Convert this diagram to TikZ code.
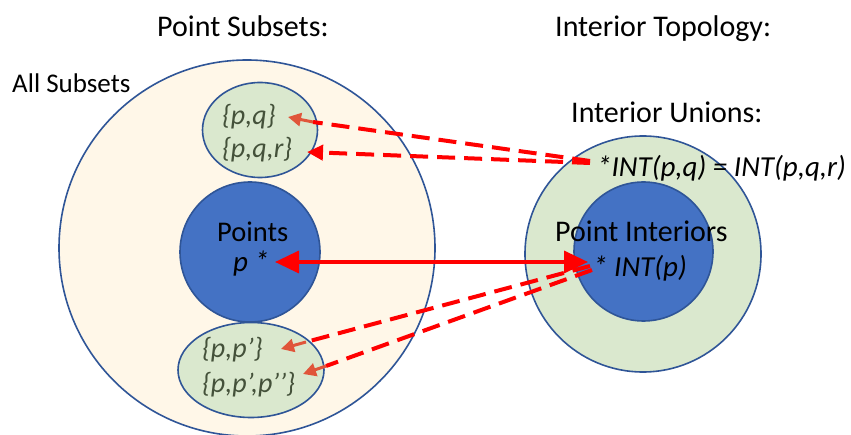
\documentclass[tikz,border=0pt]{standalone}
\usepackage{fontspec}
\setmainfont{Carlito}
\usetikzlibrary{shapes.geometric,arrows.meta}
\definecolor{cream}{HTML}{FFF7E8}
\definecolor{lgreen}{HTML}{DAE8CE}
\definecolor{midblue}{HTML}{4472C4}
\definecolor{edgeblue}{HTML}{2F5597}
\definecolor{setgray}{HTML}{44513A}
\definecolor{coral}{HTML}{E0553A}
\begin{document}
\begin{tikzpicture}[x=1pt,y=-1pt,
  region/.style={draw=edgeblue, line width=1.6pt, inner sep=0pt},
  bigset/.style={region, circle, fill=cream, minimum size=376pt},
  greenset/.style={region, ellipse, fill=lgreen},
  bluedisc/.style={region, circle, fill=midblue, minimum size=140pt},
  lbl/.style={font=\fontsize{30}{34}\selectfont, inner sep=0pt, anchor=base west},
  setlbl/.style={font=\fontsize{28}{32}\selectfont\itshape, text=setgray, inner sep=0pt, anchor=base west},
  itlbl/.style={font=\fontsize{29}{33}\selectfont\itshape, inner sep=0pt, anchor=base west},
  dashlink/.style={draw=red, line width=4pt, dash pattern=on 18pt off 9pt},
  shortarrow/.style={draw=coral, line width=3pt, -{Triangle[length=13pt,width=13pt]}},
  mainarrow/.style={draw=red, line width=3.5pt, {Triangle[length=24pt,width=22pt]}-{Triangle[length=24pt,width=22pt]}}
]
\useasboundingbox (0,0) rectangle (851,435);

% regions
\node[bigset] (all) at (247,248) {};
\node[greenset, minimum width=115pt, minimum height=95pt] (pq) at (260,130) {};
\node[greenset, minimum width=146pt, minimum height=95pt] (pp) at (251,370) {};
\node[bluedisc] (points) at (250,252) {};
\node[region, circle, fill=lgreen, minimum size=236pt] (unions) at (643,254) {};
\node[bluedisc, minimum size=139pt] (pint) at (643.5,251.5) {};

% texts
\node[lbl] (t1) at (157,37) {Point Subsets:};
\node[lbl] (t2) at (555,37) {Interior Topology:};
\node[lbl, font=\fontsize{27}{31}\selectfont] (t3) at (12,93) {All Subsets};
\node[lbl] (t4) at (571,123) {Interior Unions:};
\node[itlbl] (t5) at (597,177) {*INT(p,q) = INT(p,q,r)};
\node[lbl] (t6) at (555,242) {Point Interiors};
\node[itlbl] (t7) at (593,277) {* INT(p)};
\node[lbl, font=\fontsize{28.5}{32}\selectfont] (t8) at (217,242) {Points};
\node[itlbl] (t9) at (233,272) {p *};
\node[setlbl] (s1) at (222,125) {\{p,q\}};
\node[setlbl] (s2) at (222,158) {\{p,q,r\}};
\node[setlbl] (s3) at (202,357) {\{p,p’\}};
\node[setlbl] (s4) at (202,392) {\{p,p’,p’’\}};

% connector end points
\coordinate (pstar) at (275,262);
\coordinate (intp) at (588,262);
\coordinate (qa) at (590,161);
\coordinate (qb) at (590,163);
\coordinate (ca) at (590,266);
\coordinate (cb) at (592,270);
\coordinate (ma) at (313,122);
\coordinate (ea) at (288,117);
\coordinate (eb) at (307,152);
\coordinate (mc) at (306,342);
\coordinate (ec) at (281,349);
\coordinate (md) at (326,366);
\coordinate (ed) at (303,374);

% connectors
\draw[dashlink] (qa) -- (ma);
\draw[shortarrow] (ma) -- (ea);
\draw[dashlink, -{Triangle[length=16pt,width=15pt]}] (qb) -- (eb);
\draw[dashlink] (ca) -- (mc);
\draw[shortarrow] (mc) -- (ec);
\draw[dashlink] (cb) -- (md);
\draw[shortarrow] (md) -- (ed);
\draw[mainarrow] (pstar) -- (intp);
\end{tikzpicture}
\end{document}
